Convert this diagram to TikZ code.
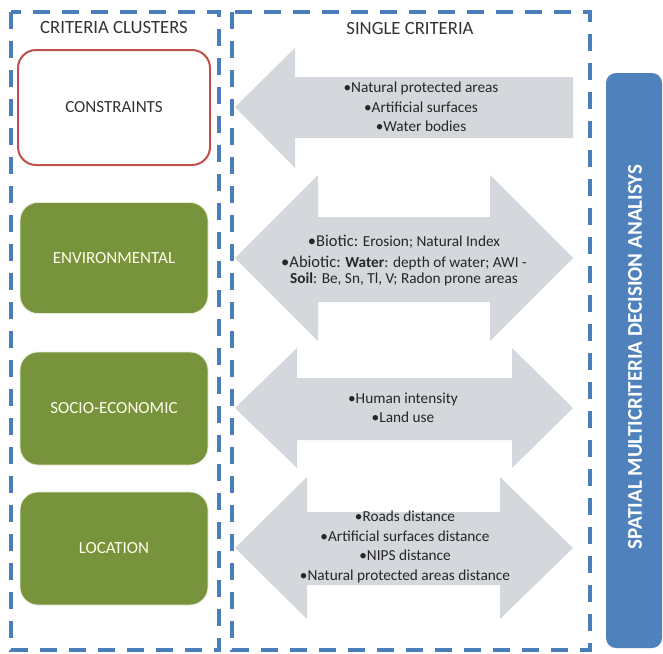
\documentclass[tikz,border=0pt]{standalone}
\usepackage{fontspec}
\setmainfont{Carlito}
\begin{document}
\begin{tikzpicture}[x=1pt,y=-1pt,
  framebox/.style={draw=frameblue,line width=3.5pt,dash pattern=on 17pt off 12pt},
  redbox/.style={draw=boxred,line width=2pt,fill=white,rounded corners=18pt},
  greenbox/.style={draw=paleborder,line width=0.8pt,fill=boxgreen,rounded corners=18pt},
  boxlabel/.style={font=\fontsize{17}{20}\selectfont},
  arrowshape/.style={fill=arrowgray,draw=none},
  arrowtext/.style={align=center,font=\fontsize{15.3}{19.5}\selectfont,text=black!85},
  header/.style={font=\fontsize{18.7}{22}\selectfont,text=black!80}]
\definecolor{frameblue}{HTML}{4A7EBB}
\definecolor{barblue}{HTML}{4F81BD}
\definecolor{boxgreen}{HTML}{77933C}
\definecolor{paleborder}{HTML}{E6EDD5}
\definecolor{boxred}{HTML}{C0504D}
\definecolor{arrowgray}{HTML}{D4D7DC}
\useasboundingbox (0,0) rectangle (663,653);

% dashed frames of the two columns
\draw[framebox] (11,12) rectangle (219,650);
\draw[framebox] (232,12) rectangle (590,650);

% column headings
\node[header] (hclusters) at (114,28) {CRITERIA CLUSTERS};
\node[header] (hsingle) at (410,28) {SINGLE CRITERIA};

% cluster boxes
\node[redbox,minimum width=192pt,minimum height=115pt,boxlabel,text=black!80] (constraints) at (114,107.5) {CONSTRAINTS};
\node[greenbox,minimum width=188pt,minimum height=111pt,boxlabel,text=white!92!yellow] (environmental) at (114,258) {ENVIRONMENTAL};
\node[greenbox,minimum width=188pt,minimum height=113pt,boxlabel,text=white!92!yellow] (socio) at (114,408.5) {SOCIO-ECONOMIC};
\node[greenbox,minimum width=188pt,minimum height=113pt,boxlabel,text=white!92!yellow] (location) at (114,548.5) {LOCATION};

% single-headed arrow for the constraints
\fill[arrowshape] (235,107) -- (295,48) -- (295,77) -- (573,77) -- (573,138) -- (295,138) -- (295,168) -- cycle;
% double-headed arrows
\fill[arrowshape] (235,258) -- (318,175) -- (318,217) -- (490,217) -- (490,175) -- (573,258)
  -- (490,341) -- (490,302) -- (318,302) -- (318,341) -- cycle;
\fill[arrowshape] (235,408) -- (297,348) -- (297,378) -- (512,378) -- (512,348) -- (573,408)
  -- (512,468) -- (512,440) -- (297,440) -- (297,468) -- cycle;
\fill[arrowshape] (235,548) -- (307,477) -- (307,512) -- (500,512) -- (500,477) -- (573,548)
  -- (500,619) -- (500,585) -- (307,585) -- (307,619) -- cycle;

% criteria lists
\node[arrowtext] (tconstraints) at (421,107) {\textbullet Natural protected areas\\ \textbullet Artificial surfaces\\ \textbullet Water bodies};
\node[arrowtext,font=\fontsize{15.3}{16}\selectfont] (tenvironmental) at (404,261)
  {{\fontsize{16.5}{16}\selectfont\textbullet Biotic:} Erosion; Natural Index\\[5pt]
   {\fontsize{16.5}{16}\selectfont\textbullet Abiotic:} \textbf{Water}: depth of water; AWI -\\
   \textbf{Soil}: Be, Sn, Tl, V; Radon prone areas};
\node[arrowtext] (tsocio) at (403,408) {\textbullet Human intensity\\ \textbullet Land use};
\node[arrowtext] (tlocation) at (405,547) {\textbullet Roads distance\\ \textbullet Artificial surfaces distance\\ \textbullet NIPS distance\\ \textbullet Natural protected areas distance};

% analysis bar
\fill[barblue,rounded corners=10pt] (606,73) rectangle (662,648);
\node[rotate=90,text=white,font=\fontsize{21}{24}\selectfont\bfseries] (analysis) at (635,357) {SPATIAL MULTICRITERIA DECISION ANALISYS};
\end{tikzpicture}
\end{document}
